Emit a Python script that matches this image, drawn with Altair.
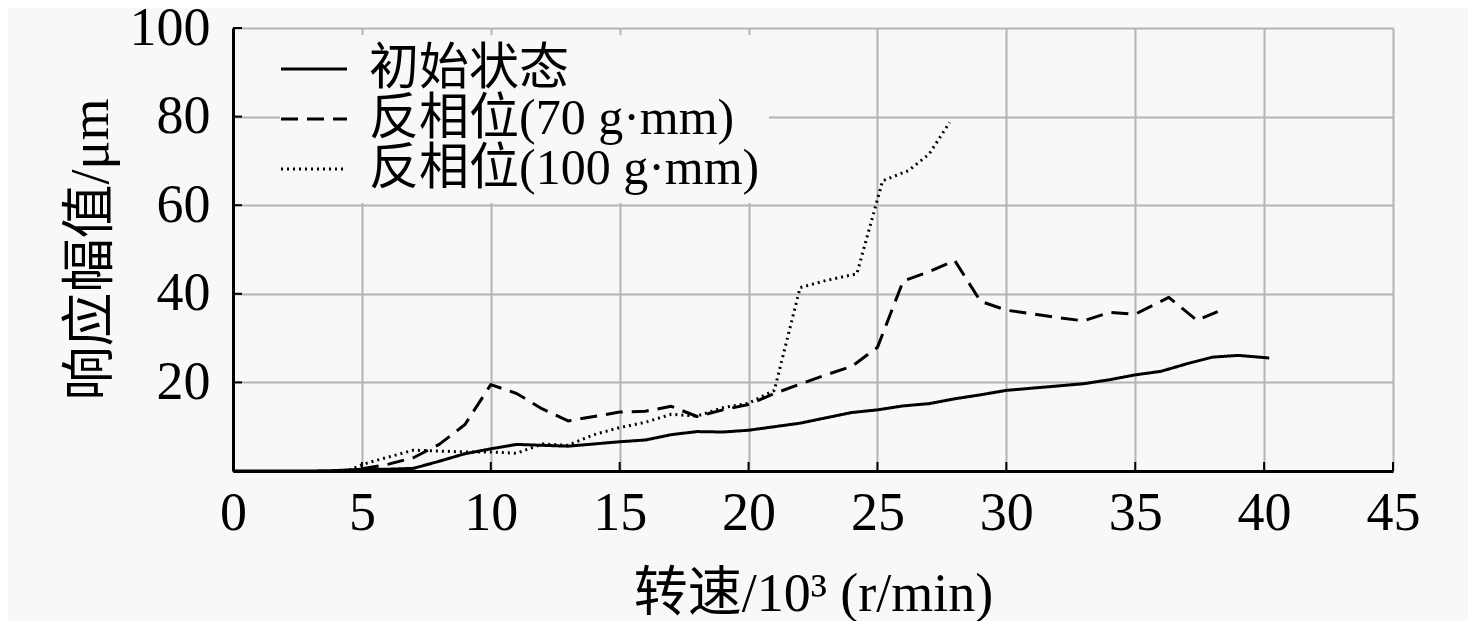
import altair as alt
import pandas as pd

FONT = "Liberation Serif, Noto Sans CJK SC"

series_names = ["初始状态", "反相位(70 g·mm)", "反相位(100 g·mm)"]

x_init = [0, 1, 2, 3, 4, 5, 6, 7, 8, 9, 10, 11, 12, 13, 14, 15, 16, 17, 18, 19, 20,
          21, 22, 23, 24, 25, 26, 27, 28, 29, 30, 31, 32, 33, 34, 35, 36, 37, 38, 39, 40.2]
y_init = [0, 0, 0, 0, 0.1, 0.4, 0.4, 0.6, 2.2, 3.9, 5.0, 6.0, 5.8, 5.6, 6.1, 6.6, 7.0, 8.2, 8.9, 8.8, 9.2,
          10.0, 10.8, 12.0, 13.2, 13.8, 14.7, 15.2, 16.3, 17.2, 18.2, 18.7, 19.2, 19.7, 20.6, 21.7, 22.5, 24.2, 25.7, 26.1, 25.5]

x_70 = [5, 6, 7, 8, 9, 10, 11, 12, 13, 14, 15, 16, 17, 18, 19, 20, 21, 22, 23, 24, 25, 26, 27, 28,
        29, 30, 31, 32, 33, 34, 35, 36.3, 37.4, 38.2]
y_70 = [0.5, 1.5, 3.0, 6.0, 10.5, 19.5, 17.5, 14.0, 11.3, 12.3, 13.3, 13.5, 14.6, 12.3, 13.8, 15.0, 17.5, 19.6, 21.7, 23.6, 27.9, 42.9, 45.0, 47.5,
        38.3, 36.3, 35.5, 34.6, 33.9, 35.8, 35.4, 39.2, 34.0, 36.0]

x_100 = [4.5, 5.2, 6, 7, 8, 9, 10, 11, 12, 13, 14, 15, 16, 17, 18, 19, 20, 21, 22, 23, 24.2, 25.2, 26.2, 27, 27.8]
y_100 = [0.2, 1.8, 3.1, 4.7, 4.5, 4.3, 4.3, 4.0, 6.1, 5.8, 8.2, 9.8, 11.0, 12.8, 12.4, 14.3, 15.3, 18.2, 41.4, 43.0, 44.5, 65.5, 67.8, 71.5, 78.7]

x_ticks = [0, 5, 10, 15, 20, 25, 30, 35, 40, 45]
y_ticks = [20, 40, 60, 80, 100]

rows = []
for name, xs, ys in [(series_names[0], x_init, y_init),
                     (series_names[1], x_70, y_70),
                     (series_names[2], x_100, y_100)]:
    for i, (a, b) in enumerate(zip(xs, ys)):
        rows.append({"series": name, "speed": a, "amp": b, "order": i})
df = pd.DataFrame(rows)

x_scale = alt.Scale(domain=[0, 45], nice=False, zero=True)
y_scale = alt.Scale(domain=[0, 100], nice=False)

lines = alt.Chart(df).mark_line(color="black", strokeJoin="round").encode(
    x=alt.X("speed:Q", scale=x_scale,
            axis=alt.Axis(values=x_ticks, title="转速/10³ (r/min)", titleY=96)),
    y=alt.Y("amp:Q", scale=y_scale,
            axis=alt.Axis(values=y_ticks, title="响应幅值/μm", titleX=-115, titleY=221)),
    order="order:Q",
    strokeDash=alt.StrokeDash("series:N",
                              scale=alt.Scale(domain=series_names,
                                              range=[[1, 0], [17, 9], [2, 4]]),
                              legend=alt.Legend(title=None, orient="none", legendX=47, legendY=7)),
    strokeWidth=alt.StrokeWidth("series:N",
                                scale=alt.Scale(domain=series_names, range=[3, 3, 2.5]),
                                legend=None),
)

tick_df_x = pd.DataFrame({"t": x_ticks})
tick_df_y = pd.DataFrame({"t": y_ticks})

xticks = alt.Chart(tick_df_x).mark_rule(color="black", strokeWidth=2).encode(
    x=alt.X("t:Q", scale=x_scale),
    y=alt.value(443), y2=alt.value(434))
yticks = alt.Chart(tick_df_y).mark_rule(color="black", strokeWidth=2).encode(
    y=alt.Y("t:Q", scale=y_scale),
    x=alt.value(0), x2=alt.value(9))

chart = alt.layer(lines, xticks, yticks).properties(
    width=1160, height=443,
    padding={"left": 225, "top": 20, "right": 75, "bottom": 150},
    autosize=alt.AutoSizeParams(type="none"),
    background="#f8f8f8",
).configure_view(stroke=None).configure_axis(
    labelFont=FONT, titleFont=FONT, labelFontSize=54, titleFontSize=54,
    labelColor="black", titleColor="black", titleFontWeight="normal",
    gridColor="#b4b4b4", gridWidth=2, gridOpacity=1,
    domainColor="black", domainWidth=3, ticks=False, labelFlush=False,
).configure_axisX(labelPadding=15).configure_axisY(labelPadding=23).configure_legend(
    labelFont=FONT, labelFontSize=50, labelColor="black", labelLimit=0,
    symbolType="M-1.65,0H1.65", symbolStrokeColor="black", symbolStrokeWidth=3,
    symbolFillColor="transparent",
    symbolSize=1600, labelOffset=30, rowPadding=0, padding=9,
    fillColor="#f8f8f8",
)

chart.save("out.html", embed_options={"renderer": "svg", "actions": False})
